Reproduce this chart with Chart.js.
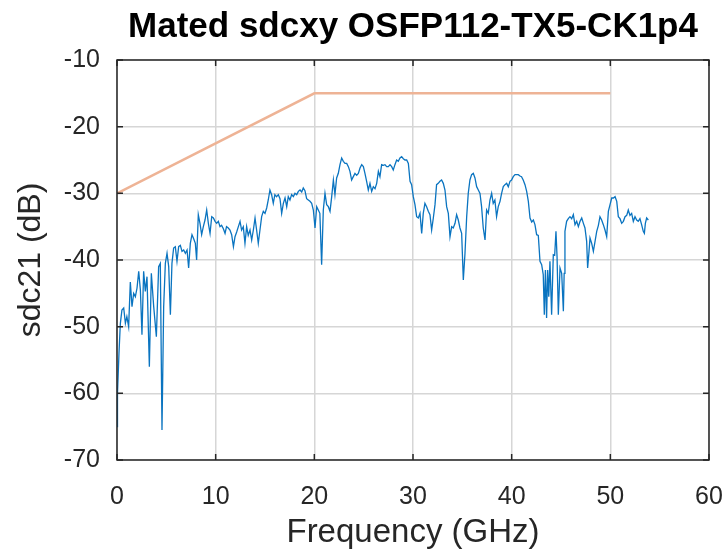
<!DOCTYPE html>
<html>
<head>
<meta charset="utf-8">
<title>Mated sdcxy OSFP112-TX5-CK1p4</title>
<script src="https://cdn.jsdelivr.net/npm/chart.js@4/dist/chart.umd.min.js"></script>
<style>
  html, body { margin: 0; padding: 0; background: #fff; }
  canvas { display: block; }
</style>
</head>
<body>
<canvas id="sdcChart" width="728" height="549"></canvas>
<script>
// Measured mode-conversion trace (GHz, dB)
const freqGHz = [
  0, 0.05, 0.2, 0.34, 0.5, 0.68, 0.85, 1.0, 1.18, 1.35, 1.52, 1.69, 1.86, 2.03, 2.2, 2.37, 2.53, 2.7, 2.87, 3.04,
  3.28, 3.48, 3.72, 3.99, 4.22, 4.39, 4.56, 4.73, 4.9, 5.07, 5.24, 5.41, 5.57, 5.74, 5.91, 6.08,
  6.25, 6.42, 6.59, 6.76, 6.93, 7.1, 7.26, 7.43, 7.6, 7.77, 7.94, 8.07, 8.24, 8.41, 8.58, 8.75, 8.92, 9.09, 9.26, 9.43,
  9.6, 9.77, 9.94, 10.1, 10.27, 10.44, 10.6, 10.78, 10.95, 11.1, 11.28, 11.45, 11.62, 11.8, 11.96, 12.13, 12.3, 12.47,
  12.63, 12.8, 12.97, 13.14, 13.3, 13.48, 13.65, 13.82, 13.99, 14.15, 14.32, 14.49, 14.66, 14.83, 15.0, 15.17, 15.33,
  15.5, 15.67, 15.84, 16.0, 16.17, 16.35, 16.52, 16.69, 16.86, 17.03, 17.2, 17.36, 17.53, 17.7, 17.87, 18.04, 18.21,
  18.38, 18.55, 18.72, 18.88, 19.05, 19.22, 19.39, 19.56, 19.73, 19.9, 20.07, 20.24, 20.4, 20.56, 20.74, 20.91, 21.08,
  21.25, 21.42, 21.59, 21.76, 21.93, 22.09, 22.26, 22.43, 22.6, 22.77, 22.94, 23.11, 23.28, 23.45, 23.61, 23.78, 23.95,
  24.12, 24.29, 24.46, 24.63, 24.8, 24.97, 25.13, 25.3, 25.47, 25.64, 25.81, 25.98, 26.15, 26.32, 26.49, 26.65, 26.82,
  27.0, 27.16, 27.33, 27.5, 27.67, 27.84, 28.0, 28.17, 28.34, 28.51, 28.68, 28.85, 29.02, 29.19, 29.36, 29.53, 29.7,
  29.86, 30.03, 30.2, 30.37, 30.54, 30.71, 30.88, 31.04, 31.21, 31.38, 31.55, 31.72, 31.89, 32.06, 32.23, 32.39, 32.56,
  32.73, 32.9, 33.07, 33.24, 33.41, 33.58, 33.75, 33.92, 34.08, 34.26, 34.42, 34.59, 34.76, 34.93, 35.1, 35.27, 35.44,
  35.6, 35.77, 35.94, 36.11, 36.28, 36.45, 36.62, 36.79, 36.95, 37.12, 37.3, 37.46, 37.63, 37.8, 37.97, 38.13, 38.3,
  38.47, 38.64, 38.82, 38.98, 39.15, 39.32, 39.49, 39.66, 39.83, 39.99, 40.16, 40.34, 40.5, 40.67, 40.84, 41.0, 41.17,
  41.35, 41.52, 41.69, 41.86, 42.03, 42.2, 42.36, 42.53, 42.7, 42.87, 43.04, 43.2, 43.31, 43.42, 43.54, 43.65, 43.76,
  43.88, 44.05, 44.22, 44.36, 44.49, 44.6, 44.73, 44.9, 45.07, 45.24, 45.32, 45.4, 45.57, 45.74, 45.91, 46.08, 46.25,
  46.42, 46.59, 46.76, 46.93, 47.1, 47.27, 47.43, 47.6, 47.7, 47.84, 47.94, 48.11, 48.28, 48.45, 48.62, 48.79, 48.95,
  49.12, 49.29, 49.46, 49.63, 49.8, 49.97, 50.14, 50.31, 50.48, 50.65, 50.81, 50.98, 51.15, 51.32, 51.49, 51.66, 51.82,
  51.99, 52.16, 52.33, 52.5, 52.67, 52.83, 53.0, 53.17, 53.34, 53.45, 53.55, 53.68, 53.85
];
const sdc21dB = [
  -65, -60, -54, -49.5, -47.5, -47.2, -49.5, -48.5, -50, -43.3, -47, -45, -45.5, -44.2, -41.7, -44.5, -51.2, -41.7, -44.7, -42.5,
  -56, -42, -47, -51.5, -41, -40.5, -65.5, -47, -40.5, -39, -41, -48.2, -40.5, -38.2, -38, -40.2,
  -38, -37.8, -38.7, -38.5, -39, -38.5, -41.2, -37.5, -36.2, -36.8, -37.5, -40, -33.2, -34.5, -36.2, -35, -34, -32.5, -34.5, -36,
  -33.5, -33.7, -34.2, -34.5, -34.2, -35, -34.8, -35.3, -36, -35, -35.2, -35.5, -36.2, -38, -36.5, -35.8, -35, -34.2,
  -35.5, -35, -37.5, -35, -36.3, -35.5, -37, -35.5, -33.7, -35.5, -37.5, -35.5, -33.5, -32.7, -33, -32.2, -31,
  -29.5, -30.2, -31.5, -30.2, -30.5, -30.2, -30.8, -33, -31.5, -30.7, -32, -30.5, -31, -30.2, -30.5, -30, -30.2,
  -29.7, -29.5, -29.8, -29.2, -29.6, -30.8, -31, -31.2, -31.5, -32.5, -35.2, -32, -32.5, -33, -40.7, -32.5, -30,
  -31.7, -32, -32.7, -30.5, -28, -30.2, -27.7, -27, -25.7, -24.7, -25.2, -25.5, -25.5, -26, -26.7, -28, -27.5,
  -27, -27.3, -27, -26.2, -25.7, -26, -27, -28.2, -29.5, -28.5, -29.7, -29, -29.3, -28.5, -26.7, -27.5, -25.7,
  -25.8, -25.7, -26, -26, -25.7, -26, -26.5, -25.7, -25, -25.2, -24.7, -24.5, -24.8, -25, -25, -25.5, -28.2,
  -28.7, -30.5, -31.7, -33.5, -33.7, -33, -36, -33, -31.5, -32, -32.7, -33.2, -35.5, -33.7, -31.7, -28.7, -28.5,
  -28.2, -28, -28.5, -29.5, -32, -33, -36.5, -35, -35.2, -34.5, -33.2, -34, -35.2, -36, -43, -39, -33.5,
  -30, -28, -27.2, -27, -27.7, -29, -29.5, -30, -32, -35.2, -37, -32.5, -33, -31, -30, -31.5, -31,
  -33.5, -32, -31.2, -30, -29, -28.7, -28.5, -29, -28.2, -28, -27.5, -27.2, -27.2, -27.2, -27.4, -27.5, -28,
  -28.7, -29.7, -31.2, -33.7, -34.3, -34, -34.7, -36.2, -36.3, -40.2, -40.7, -42.2, -48.2, -41.5, -48.7, -41.5, -45.5,
  -40.2, -48.2, -39.2, -39.3, -35.7, -39.5, -48.2, -41.2, -42, -47.7, -42, -35.7, -34.2, -33.8, -33.5, -33.8, -33.2,
  -34.7, -34.2, -35, -34.2, -33.7, -34.5, -35.2, -37.2, -41.2, -38.7, -36.7, -37.5, -38.7, -37.2, -35.7, -34.8, -33.5,
  -34, -34.7, -35.5, -36.5, -32.7, -31.7, -30.7, -30.7, -30.5, -31.2, -33.5, -33.8, -34.5, -34.2, -33.5, -33.3, -32.5,
  -33.3, -33, -34.2, -33.5, -34, -34.2, -33.8, -34.7, -35.7, -36, -34.5, -33.7, -34
];

// Limit line corners
const maskGHz = [0, 20, 50];
const maskDB = [-30, -15, -15];

const xTicks = [0, 10, 20, 30, 40, 50, 60];
const yTicks = [-70, -60, -50, -40, -30, -20, -10];

const axisColor = '#262626';
const gridColor = '#d6d6d6';
const fontFamily = '"Liberation Sans", Arial, Helvetica, sans-serif';

function toPoints(xs, ys) {
  return xs.map((x, i) => ({ x: x, y: ys[i] }));
}

// Box around the plot area plus inward tick marks on all four sides
const boxTicks = {
  id: 'boxTicks',
  afterDraw(chart) {
    const { ctx, chartArea: a, scales } = chart;
    const len = 6;
    ctx.save();
    ctx.strokeStyle = axisColor;
    ctx.lineWidth = 1.5;
    ctx.strokeRect(a.left, a.top, a.right - a.left, a.bottom - a.top);
    ctx.beginPath();
    xTicks.forEach(v => {
      const px = scales.x.getPixelForValue(v);
      ctx.moveTo(px, a.bottom);
      ctx.lineTo(px, a.bottom - len);
      ctx.moveTo(px, a.top);
      ctx.lineTo(px, a.top + len);
    });
    yTicks.forEach(v => {
      const py = scales.y.getPixelForValue(v);
      ctx.moveTo(a.left, py);
      ctx.lineTo(a.left + len, py);
      ctx.moveTo(a.right, py);
      ctx.lineTo(a.right - len, py);
    });
    ctx.stroke();
    ctx.restore();
  }
};

const ctx = document.getElementById('sdcChart').getContext('2d');
new Chart(ctx, {
  type: 'line',
  data: {
    datasets: [{
      label: 'sdc21',
      data: toPoints(freqGHz, sdc21dB),
      borderColor: '#0a74c0',
      borderWidth: 1.3,
      pointRadius: 0,
      tension: 0,
      fill: false,
    }, {
      label: 'limit',
      data: toPoints(maskGHz, maskDB),
      borderColor: '#EEB395',
      borderWidth: 2.5,
      pointRadius: 0,
      tension: 0,
      fill: false,
    }],
  },
  options: {
    responsive: false,
    animation: false,
    devicePixelRatio: 1,
    layout: { padding: { left: 0, right: 19, top: 0, bottom: 0 } },
    plugins: {
      legend: { display: false },
      tooltip: { enabled: false },
      title: {
        display: true,
        text: 'Mated sdcxy OSFP112-TX5-CK1p4',
        color: '#000',
        fullSize: false,
        font: { family: fontFamily, size: 35, weight: 'bold', lineHeight: 1.2 },
        padding: { top: 6, bottom: 12 },
      },
    },
    scales: {
      x: {
        type: 'linear',
        min: 0,
        max: 60,
        afterBuildTicks: s => { s.ticks = xTicks.map(v => ({ value: v })); },
        afterFit: s => { s.height = 89; s.paddingLeft = 0; s.paddingRight = 0; },
        ticks: { color: axisColor, padding: 22, font: { family: fontFamily, size: 25 } },
        grid: { color: gridColor, lineWidth: 1.5, drawTicks: false },
        border: { display: false },
        title: {
          display: true,
          text: 'Frequency (GHz)',
          color: axisColor,
          font: { family: fontFamily, size: 33, lineHeight: 1 },
          padding: { top: 0, bottom: 0 },
        },
      },
      y: {
        type: 'linear',
        min: -70,
        max: -10,
        afterBuildTicks: s => { s.ticks = yTicks.map(v => ({ value: v })); },
        afterFit: s => { s.width = 117; s.paddingTop = 0; s.paddingBottom = 0; },
        ticks: { color: axisColor, padding: 17, font: { family: fontFamily, size: 25 } },
        grid: { color: gridColor, lineWidth: 1.5, drawTicks: false },
        border: { display: false },
        title: {
          display: true,
          text: 'sdc21 (dB)',
          color: axisColor,
          font: { family: fontFamily, size: 32, lineHeight: 1 },
          padding: { top: 15, bottom: 0 },
        },
      },
    },
  },
  plugins: [boxTicks],
});
</script>
</body>
</html>
